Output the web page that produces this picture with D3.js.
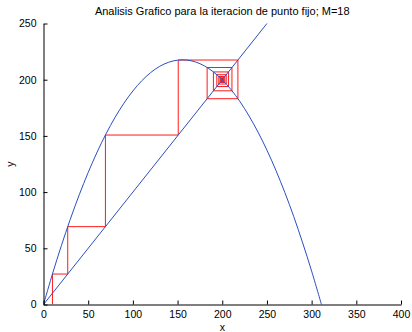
<!DOCTYPE html>
<html>
<head>
<meta charset="utf-8">
<script src="https://cdn.jsdelivr.net/npm/d3@7"></script>
<style>
  body { margin: 0; background: #fff; }
  svg { display: block; font-family: "Liberation Sans", Arial, sans-serif; }
</style>
</head>
<body>
<svg id="chart" width="412" height="332"></svg>
<script>
// Parabola g(x) sampled along x
const curveX = [0, 10, 20, 30, 40, 50, 60, 70, 80, 90, 100, 110, 120, 130, 140, 150,
  160, 170, 180, 190, 200, 210, 220, 230, 240, 250, 260, 270, 280, 290, 300, 311];
const curveY = [0, 27.1, 52.4, 75.9, 97.6, 117.5, 135.6, 151.9, 166.4, 179.1, 190.0, 199.1,
  206.4, 211.9, 215.5, 217.4, 217.5, 215.8, 212.3, 207.0, 199.9, 191.0, 180.3, 167.7,
  153.4, 137.3, 119.4, 99.7, 78.2, 54.8, 29.7, 0];
// Identity line y = x
const diagX = [0, 250];
// Fixed-point iterates x0..x18
const iterates = [10, 27.10, 69.27, 150.76, 217.50, 183.09, 210.85, 190.12, 206.91, 193.90,
  204.43, 196.15, 202.82, 197.55, 201.78, 198.42, 201.11, 198.97, 200.69];
const xTicks = [0, 50, 100, 150, 200, 250, 300, 350, 400];
const yTicks = [0, 50, 100, 150, 200, 250];
const title = "Analisis Grafico para la iteracion de punto fijo; M=18";

const svg = d3.select("#chart");
const L = 43.5, R = 401, T = 23.5, B = 304.5;
const x = d3.scaleLinear().domain([0, 400]).range([L, R]);
const y = d3.scaleLinear().domain([0, 250]).range([B, T]);

svg.append("defs").append("clipPath").attr("id", "plotclip")
  .append("rect").attr("x", L).attr("y", T - 1).attr("width", R - L).attr("height", B - T + 1);

const plot = svg.append("g").attr("clip-path", "url(#plotclip)");
const line = d3.line().x(d => x(d[0])).y(d => y(d[1]));

// Cobweb staircase
const web = [[iterates[0], 0]];
for (let i = 0; i < iterates.length - 1; i++) {
  web.push([iterates[i], iterates[i + 1]]);
  web.push([iterates[i + 1], iterates[i + 1]]);
}
plot.append("path").datum(web).attr("d", line)
  .attr("fill", "none").attr("stroke", "#ff1a1a").attr("stroke-width", 1);

// Parabola
plot.append("path").datum(curveX.map((v, i) => [v, curveY[i]]))
  .attr("d", line.curve(d3.curveCatmullRom))
  .attr("fill", "none").attr("stroke", "#2a4fbf").attr("stroke-width", 1);
line.curve(d3.curveLinear);

// Diagonal
plot.append("path").datum(diagX.map(v => [v, v])).attr("d", line)
  .attr("fill", "none").attr("stroke", "#2a4fbf").attr("stroke-width", 1);

// Axes with inward ticks
const xAxis = d3.axisBottom(x).tickValues(xTicks).tickSizeInner(-4).tickSizeOuter(0).tickPadding(7);
const yAxis = d3.axisLeft(y).tickValues(yTicks).tickSizeInner(-4).tickSizeOuter(0).tickPadding(7);
const gx = svg.append("g").attr("transform", `translate(0,${B})`).call(xAxis);
const gy = svg.append("g").attr("transform", `translate(${L},0)`).call(yAxis);
[gx, gy].forEach(g => {
  g.selectAll("path").attr("stroke", "#000");
  g.selectAll("line").attr("stroke", "#000");
  g.selectAll("text").attr("font-size", 10.5).attr("fill", "#000")
    .attr("font-family", "Liberation Sans, Arial, sans-serif");
});
gx.selectAll("text").attr("dy", "0.6em");

svg.append("text").attr("x", (L + R) / 2).attr("y", 15).attr("text-anchor", "middle")
  .attr("font-size", 11).text(title);
svg.append("text").attr("x", (L + R) / 2).attr("y", 331).attr("text-anchor", "middle")
  .attr("font-size", 10.5).text("x");
svg.append("text").attr("transform", `translate(14,${(T + B) / 2}) rotate(-90)`)
  .attr("text-anchor", "middle").attr("font-size", 10.5).text("y");
</script>
</body>
</html>
